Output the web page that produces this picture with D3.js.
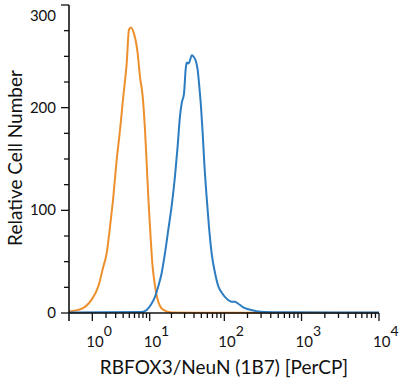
<!DOCTYPE html>
<html>
<head>
<meta charset="utf-8">
<script src="https://cdn.jsdelivr.net/npm/d3@7"></script>
<style>
  body { margin: 0; background: #fff; }
  text { font-family: Lato, "Open Sans", sans-serif; fill: #111; }
</style>
</head>
<body>
<svg id="chart"></svg>
<script>
// isotype control (orange) : fluorescence, count
const controlX = [0, 0.32, 0.61, 0.96, 1.39, 1.77, 2.06, 2.38, 2.73, 3.12, 3.55, 4.02, 4.55, 4.94, 5.25, 5.76, 6.69, 7.24, 7.93, 8.57, 9.05, 9.55, 10.1, 10.9, 11.9, 13.2, 15.5, 20.1, 40, 10000];
const controlY = [1.5, 3, 6, 13, 26, 45, 58, 84, 113, 149, 178, 211, 243, 276, 278, 274, 253, 230, 211, 178, 146, 113, 84, 48, 26, 11, 3, 0.5, 0.3, 0.3];

// RBFOX3/NeuN stained (blue)
const stainX = [0, 7.67, 9.05, 10.4, 11.9, 13.2, 14.7, 16.3, 18.1, 20.1, 22.3, 24.2, 26.0, 27.4, 29.5, 31.0, 32.0, 33.7, 35.4, 37.3, 39.2, 42.1, 44.7, 47.1, 49.5, 52.1, 54.7, 58.7, 63.0, 68.3, 75.6, 83.5, 94.1, 107, 124.6, 137.7, 152, 176, 205, 263, 337, 612, 10000];
const stainY = [0.5, 1, 3, 8, 16, 26, 39, 58, 81, 104, 133, 162, 191, 204, 214, 237, 244, 243, 246, 251, 250, 246, 237, 220, 201, 175, 146, 113, 84, 58, 39, 26, 19, 14, 11, 11, 9, 5.5, 3.6, 1.7, 1, 0.7, 0.5];

const yMajor = [0, 100, 200, 300];
const xMajorExp = [0, 1, 2, 3, 4];

const width = 400, height = 390;
const svg = d3.select('#chart').attr('width', width).attr('height', height);

const x = d3.scaleSymlog().constant(1).domain([0, 10000]).range([69, 379]);
const y = d3.scaleLinear().domain([0, 300]).range([313, 5]);

const line = d3.line().x(d => x(d[0])).y(d => y(d[1])).curve(d3.curveMonotoneX);

svg.append('path')
   .datum(d3.zip(controlX, controlY))
   .attr('d', line)
   .attr('fill', 'none')
   .attr('stroke', '#ee8f2d')
   .attr('stroke-width', 2);

svg.append('path')
   .datum(d3.zip(stainX, stainY))
   .attr('d', line)
   .attr('fill', 'none')
   .attr('stroke', '#2b7cc0')
   .attr('stroke-width', 2);

// y axis
const yMinor = d3.range(0, 301, 25);
const yAxis = svg.append('g');
yAxis.append('line')
     .attr('x1', x(0)).attr('x2', x(0))
     .attr('y1', y(300)).attr('y2', y(0) + 8)
     .attr('stroke', '#111').attr('stroke-width', 1.6);
yAxis.selectAll('.yt')
     .data(yMinor)
     .join('line')
     .attr('x1', d => x(0) - (d % 100 === 0 ? 8 : 5))
     .attr('x2', x(0))
     .attr('y1', d => y(d)).attr('y2', d => y(d))
     .attr('stroke', '#111').attr('stroke-width', 1.3);
yAxis.selectAll('text')
     .data(yMajor)
     .join('text')
     .attr('x', x(0) - 13)
     .attr('y', d => y(d) + (d === 300 ? 16 : 5))
     .attr('text-anchor', 'end')
     .style('font-size', '15px')
     .text(d => d);

// x axis
let xMinor = [];
for (let e = 0; e < 4; e++) {
  for (let m = 2; m < 10; m++) xMinor.push(m * Math.pow(10, e));
}
const xAxis = svg.append('g');
xAxis.append('line')
     .attr('x1', x(0)).attr('x2', x(10000))
     .attr('y1', y(0)).attr('y2', y(0))
     .attr('stroke', '#111').attr('stroke-width', 1.6);
xAxis.selectAll('.xmin')
     .data(xMinor)
     .join('line')
     .attr('x1', d => x(d)).attr('x2', d => x(d))
     .attr('y1', y(0)).attr('y2', y(0) + 5)
     .attr('stroke', '#111').attr('stroke-width', 1.3);
xAxis.selectAll('.xmaj')
     .data(xMajorExp)
     .join('line')
     .attr('x1', d => x(Math.pow(10, d))).attr('x2', d => x(Math.pow(10, d)))
     .attr('y1', y(0)).attr('y2', y(0) + 8)
     .attr('stroke', '#111').attr('stroke-width', 1.3);
const xl = xAxis.selectAll('text')
     .data(xMajorExp)
     .join('text')
     .attr('x', d => x(Math.pow(10, d)) - 6)
     .attr('y', 347)
     .style('font-size', '15px');
xl.append('tspan').text('10');
xl.append('tspan').attr('dy', -11).style('font-size', '14px').text(d => d);

// titles
svg.append('text')
   .attr('x', 224).attr('y', 374)
   .attr('text-anchor', 'middle')
   .style('font-size', '19px')
   .text('RBFOX3/NeuN (1B7) [PerCP]');

svg.append('text')
   .attr('transform', 'translate(22,158) rotate(-90)')
   .attr('text-anchor', 'middle')
   .style('font-size', '19px')
   .text('Relative Cell Number');
</script>
</body>
</html>
